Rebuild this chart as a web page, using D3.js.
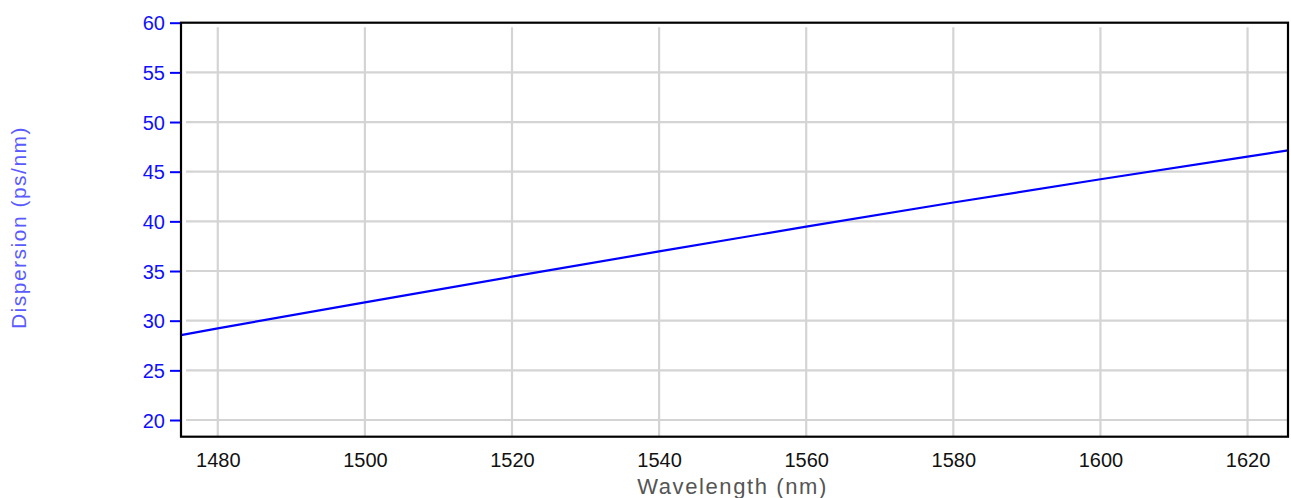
<!DOCTYPE html>
<html><head><meta charset="utf-8">
<script src="https://cdn.jsdelivr.net/npm/d3@7"></script>
<style>
html,body{margin:0;padding:0;background:#fff;}
svg{display:block;}
text{font-family:"Liberation Sans",Arial,sans-serif;}
</style></head>
<body>
<svg id="chart" width="1291" height="498"></svg>
<script>
// Data
const wavelength = [1475, 1480, 1500, 1520, 1540, 1560, 1580, 1600, 1620, 1625.5];
const dispersion = [28.55, 29.23, 31.85, 34.43, 36.97, 39.47, 41.9, 44.24, 46.52, 47.15];
const xTicks = [1480, 1500, 1520, 1540, 1560, 1580, 1600, 1620];
const yTicks = [20, 25, 30, 35, 40, 45, 50, 55, 60];
const xTitle = "Wavelength (nm)";
const yTitle = "Dispersion (ps/nm)";

const svg = d3.select("#chart");
const L = 181, R = 1288, T = 22.7, B = 436.7;
const x = d3.scaleLinear().domain([1475, 1625.5]).range([L, R]);
const y = d3.scaleLinear().domain([18.32, 60]).range([B, T]);

// grid
const g = svg.append("g");
g.selectAll(".vg").data(xTicks).enter().append("line")
  .attr("x1", d => x(d)).attr("x2", d => x(d))
  .attr("y1", T + 4.5).attr("y2", B)
  .attr("stroke", "#d4d4d4").attr("stroke-width", 2.2);
g.selectAll(".hg").data(yTicks.filter(d => d < 60)).enter().append("line")
  .attr("x1", L + 5).attr("x2", R)
  .attr("y1", d => y(d)).attr("y2", d => y(d))
  .attr("stroke", "#d4d4d4").attr("stroke-width", 2.2);

// y axis with blue ticks
const yAxis = d3.axisLeft(y).tickValues(yTicks).tickSize(11).tickPadding(5);
const ya = svg.append("g").attr("transform", `translate(${L},0)`).call(yAxis);
ya.select(".domain").remove();
ya.selectAll(".tick line").attr("stroke", "#0000ff").attr("stroke-width", 2);
ya.selectAll(".tick text").attr("fill", "#1010ff").attr("font-size", 20)
  .attr("font-family", "Liberation Sans, Arial, sans-serif").attr("dy", "0.36em");

// x axis labels (no tick marks)
const xAxis = d3.axisBottom(x).tickValues(xTicks).tickSize(0).tickPadding(0).tickFormat(d3.format("d"));
const xa = svg.append("g").attr("transform", `translate(0,${B})`).call(xAxis);
xa.select(".domain").remove();
xa.selectAll(".tick text").attr("fill", "#111").attr("font-size", 20)
  .attr("font-family", "Liberation Sans, Arial, sans-serif").attr("dy", null).attr("y", 30);

// line
const line = d3.line().x((d, i) => x(wavelength[i])).y(d => y(d));
svg.append("path").datum(dispersion).attr("d", line)
  .attr("fill", "none").attr("stroke", "#0000ff").attr("stroke-width", 2.2);

// frame
svg.append("rect").attr("x", L).attr("y", T).attr("width", R - L).attr("height", B - T)
  .attr("fill", "none").attr("stroke", "#000").attr("stroke-width", 2.2);

// titles
svg.append("text").attr("x", 732.5).attr("y", 494).attr("text-anchor", "middle")
  .attr("font-size", 22).attr("letter-spacing", 1.6).attr("fill", "#555").text(xTitle);
svg.append("text").attr("transform", "translate(26,227.5) rotate(-90)").attr("text-anchor", "middle")
  .attr("font-size", 21).attr("letter-spacing", 1.5).attr("fill", "#5a5aff").text(yTitle);
</script>
</body></html>
